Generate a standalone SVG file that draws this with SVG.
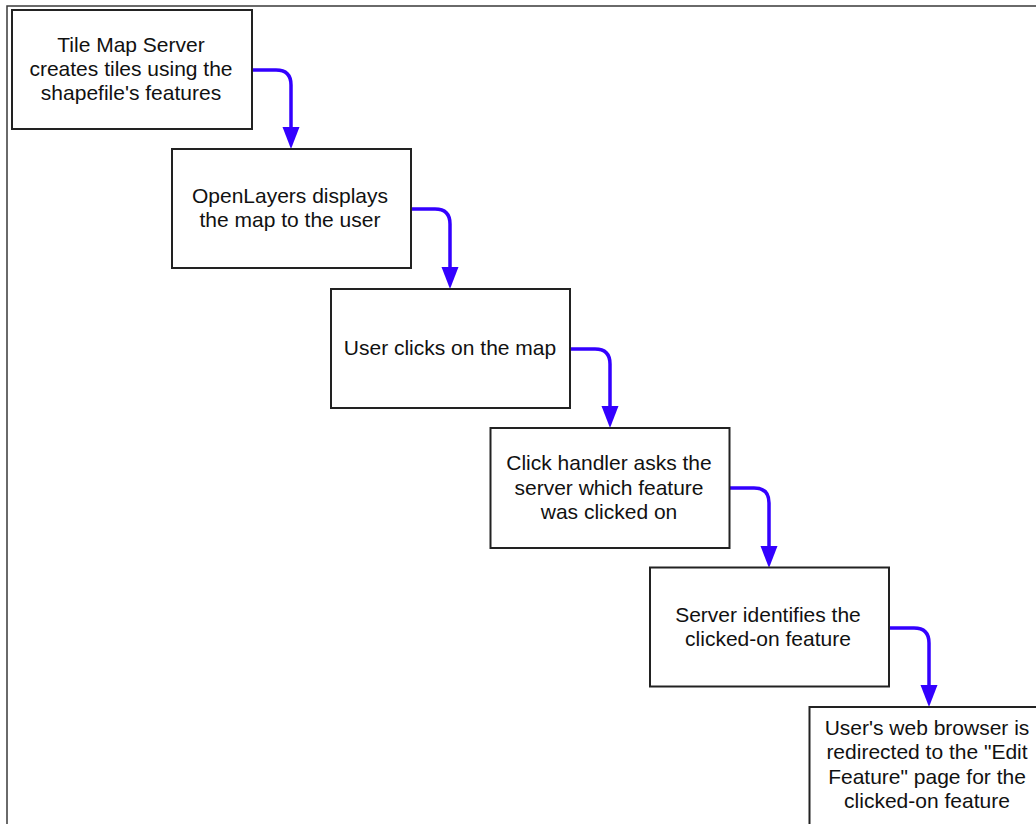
<svg xmlns="http://www.w3.org/2000/svg" width="1036" height="824" viewBox="0 0 1036 824">
<defs>
<style>
.frame{fill:none;stroke:#3a3a3a;stroke-width:1.5}
.box{fill:#ffffff;stroke:#222222;stroke-width:2}
.t{font-family:"Liberation Sans",Arial,sans-serif;font-size:21px;fill:#111111;text-anchor:middle}
.c{fill:none;stroke:#3300ff;stroke-width:3.5}
.h{fill:#3300ff}
</style>
</defs>
<rect width="1036" height="824" fill="#ffffff"/>
<rect class="frame" x="7" y="6" width="1040" height="830"/>
<g id="connectors">
<path class="c" d="M252 70 H276 Q291 70 291 85 V130"/>
<polygon class="h" points="282.5,127 299.5,127 291,149"/>
<path class="c" d="M411 209 H435 Q450 209 450 224 V270"/>
<polygon class="h" points="441.5,267 458.5,267 450,289"/>
<path class="c" d="M570 349 H595 Q610 349 610 364 V409"/>
<polygon class="h" points="601.5,406 618.5,406 610,428"/>
<path class="c" d="M730 488 H754 Q769 488 769 503 V549"/>
<polygon class="h" points="760.5,546 777.5,546 769,568"/>
<path class="c" d="M889 628 H914 Q929 628 929 643 V688"/>
<polygon class="h" points="920.5,685 937.5,685 929,707"/>
</g>
<g id="node1">
<rect class="box" x="12" y="10" width="240" height="119"/>
<text class="t" x="131" y="52">Tile Map Server</text>
<text class="t" x="131" y="76">creates tiles using the</text>
<text class="t" x="131" y="100">shapefile's features</text>
</g>
<g id="node2">
<rect class="box" x="172" y="149" width="239" height="119"/>
<text class="t" x="290" y="203">OpenLayers displays</text>
<text class="t" x="290" y="227">the map to the user</text>
</g>
<g id="node3">
<rect class="box" x="331" y="289" width="239" height="119"/>
<text class="t" x="450" y="355">User clicks on the map</text>
</g>
<g id="node4">
<rect class="box" x="490.5" y="428" width="239" height="120"/>
<text class="t" x="609" y="470">Click handler asks the</text>
<text class="t" x="609" y="495">server which feature</text>
<text class="t" x="609" y="519">was clicked on</text>
</g>
<g id="node5">
<rect class="box" x="650" y="567.5" width="239" height="119"/>
<text class="t" x="768" y="622">Server identifies the</text>
<text class="t" x="768" y="646">clicked-on feature</text>
</g>
<g id="node6">
<rect class="box" x="809.5" y="707" width="239" height="130"/>
<text class="t" x="927" y="735">User's web browser is</text>
<text class="t" x="927" y="759">redirected to the "Edit</text>
<text class="t" x="927" y="784">Feature" page for the</text>
<text class="t" x="927" y="808">clicked-on feature</text>
</g>
</svg>
